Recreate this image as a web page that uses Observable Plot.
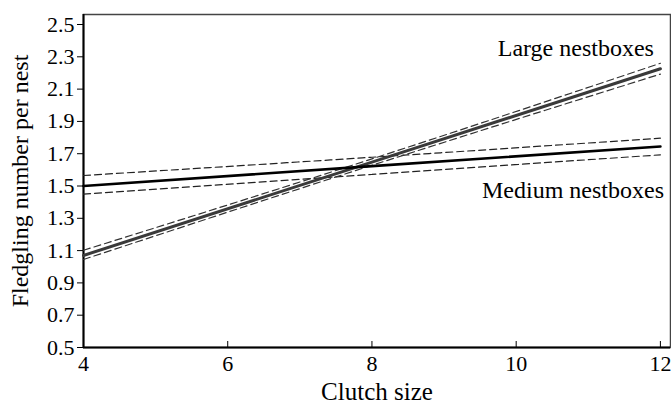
<!DOCTYPE html>
<html>
<head>
<meta charset="utf-8">
<script src="https://cdn.jsdelivr.net/npm/d3@7"></script>
<script src="https://cdn.jsdelivr.net/npm/@observablehq/plot@0.6"></script>
<style>
  html, body { margin: 0; padding: 0; background: #fff; }
  svg { display: block; }
  #chart svg text { font-family: 'Liberation Serif', 'DejaVu Serif', serif; fill: #000; }
  #chart svg g[aria-label="y-axis tick label"] text,
  #chart svg g[aria-label="x-axis tick label"] text { font-size: 22px; }
  #chart svg g.series-label text { font-size: 24px; }
  #chart svg g.x-title text { font-size: 25px; }
  #chart svg g.y-title text { font-size: 24px; }
</style>
</head>
<body>
<div id="chart"></div>
<script>
const clutch = [4, 8, 12];
const mediumFit   = [1.50, 1.623, 1.745];
const mediumUpper = [1.565, 1.678, 1.796];
const mediumLower = [1.45, 1.572, 1.693];
const largeFit    = [1.07, 1.648, 2.226];
const largeUpper  = [1.102, 1.668, 2.26];
const largeLower  = [1.045, 1.628, 2.193];
const xTicks = [4, 6, 8, 10, 12];
const yTicks = [0.5, 0.7, 0.9, 1.1, 1.3, 1.5, 1.7, 1.9, 2.1, 2.3, 2.5];
const seriesLabels = ["Large nestboxes", "Medium nestboxes"];
const xTitle = "Clutch size";
const yTitle = "Fledgling number per nest";

const toRows = (ys) => clutch.map((x, i) => ({x, y: ys[i]}));

const chart = Plot.plot({
  width: 671,
  height: 405,
  marginLeft: 83,
  marginRight: 1,
  marginTop: 14,
  marginBottom: 58,
  style: {fontFamily: "'Liberation Serif', serif", fontSize: "22px", color: "#000", background: "#fff"},
  x: {domain: [4, 12.14]},
  y: {domain: [0.5, 2.562]},
  marks: [
    Plot.frame({stroke: "#444", strokeWidth: 1.5}),
    Plot.axisY(yTicks, {tickSize: 6, tickPadding: 3, tickFormat: d3.format(".1f"), label: null}),
    Plot.axisX(xTicks, {tickSize: -6, tickPadding: 14, label: null}),
    Plot.ruleX([4], {stroke: "#000", strokeWidth: 2}),
    Plot.ruleY([0.5], {stroke: "#000", strokeWidth: 2}),
    Plot.line(toRows(mediumUpper), {x: "x", y: "y", stroke: "#222", strokeWidth: 1.2, strokeDasharray: "7,4", curve: "natural"}),
    Plot.line(toRows(mediumLower), {x: "x", y: "y", stroke: "#222", strokeWidth: 1.2, strokeDasharray: "7,4", curve: "natural"}),
    Plot.line(toRows(largeUpper), {x: "x", y: "y", stroke: "#333", strokeWidth: 1.2, strokeDasharray: "7,4", curve: "natural"}),
    Plot.line(toRows(largeLower), {x: "x", y: "y", stroke: "#333", strokeWidth: 1.2, strokeDasharray: "7,4", curve: "natural"}),
    Plot.line(toRows(largeFit), {x: "x", y: "y", stroke: "#3a3a3a", strokeWidth: 3}),
    Plot.line(toRows(mediumFit), {x: "x", y: "y", stroke: "#000", strokeWidth: 2.6}),
    Plot.text([seriesLabels[0]], {x: 11.91, y: 2.354, text: d => d, textAnchor: "end", className: "series-label"}),
    Plot.text([seriesLabels[1]], {x: 12.05, y: 1.475, text: d => d, textAnchor: "end", className: "series-label"}),
    Plot.text([xTitle], {frameAnchor: "bottom", text: d => d, dy: 44, lineAnchor: "middle", textAnchor: "middle", className: "x-title"}),
    Plot.text([yTitle], {frameAnchor: "left", text: d => d, dx: -63, rotate: -90, lineAnchor: "middle", textAnchor: "middle", className: "y-title"})
  ]
});
document.getElementById("chart").appendChild(chart);
</script>
</body>
</html>
